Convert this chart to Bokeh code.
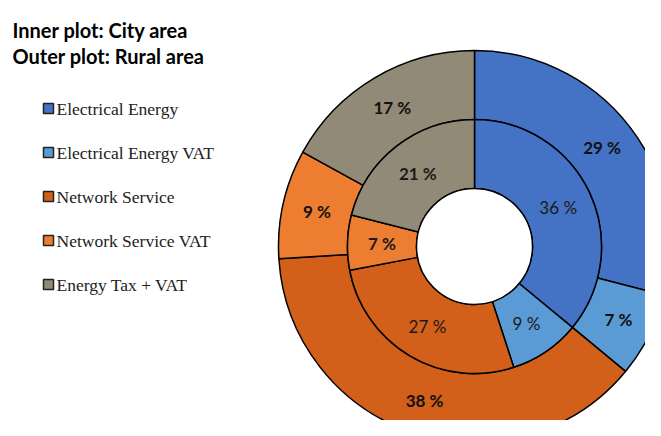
import numpy as np
from bokeh.plotting import figure
from bokeh.models import Range1d, ColumnDataSource
from bokeh.core.properties import value
from bokeh.embed import file_html
from bokeh.resources import INLINE

categories = ["Electrical Energy", "Electrical Energy VAT", "Network Service",
              "Network Service VAT", "Energy Tax + VAT"]
city = [36, 9, 27, 7, 21]      # inner ring
rural = [29, 7, 38, 9, 17]     # outer ring
colors = ["#4472C4", "#5B9BD5", "#D2601A", "#ED7D31", "#918A77"]
inner_bold = [False, False, False, True, True]
titles = ["Inner plot: City area", "Outer plot: Rural area"]

W, H = 645, 420
p = figure(width=W, height=H, x_range=Range1d(0, W), y_range=Range1d(0, H),
           output_backend="svg", toolbar_location=None, min_border=0)
p.axis.visible = False
p.grid.visible = False
p.outline_line_color = None
p.background_fill_color = "white"


def py(img_y):
    return H - img_y


cx, cy = 474, py(246)
r_hole, r_mid, r_out = 58, 127, 196


def ring(vals, rin, rout):
    v = np.array(vals, dtype=float)
    cum = np.cumsum(v) / v.sum()
    prev = np.concatenate([[0], cum[:-1]])
    a_start = np.pi / 2 - prev * 2 * np.pi
    a_end = np.pi / 2 - cum * 2 * np.pi
    mid = (a_start + a_end) / 2
    src = ColumnDataSource(dict(x=[cx] * len(v), y=[cy] * len(v),
                                s=list(a_end), e=list(a_start), c=colors))
    p.annular_wedge(x="x", y="y", inner_radius=rin, outer_radius=rout,
                    start_angle="s", end_angle="e", fill_color="c", source=src,
                    line_color="black", line_width=1.5)
    rl = (rin + rout) / 2
    return cx + rl * np.cos(mid), cy + rl * np.sin(mid)


ox, oy = ring(rural, r_mid, r_out)
ix, iy = ring(city, r_hole, r_mid)
p.circle(x=[cx], y=[cy], radius=r_hole, fill_color="white",
         line_color="black", line_width=1.5)

lab_font = value("Lato")
p.text(x=list(ox), y=list(oy), text=[f"{v} %" for v in rural],
       text_font=lab_font, text_font_size="17px", text_font_style="bold",
       text_align="center", text_baseline="middle", text_color="#111111")
for i in range(len(city)):
    p.text(x=[ix[i]], y=[iy[i]], text=[f"{city[i]} %"], text_font=lab_font,
           text_font_size="17px",
           text_font_style="bold" if inner_bold[i] else "normal",
           text_align="center", text_baseline="middle", text_color="#1a1a1a")

# Titles
p.text(x=[12, 12], y=[py(29.5), py(55)], text=titles,
       text_font=lab_font, text_font_size="20px", text_font_style="bold",
       text_align="left", text_baseline="alphabetic", text_color="black")

# Legend
ly = [108, 152, 196, 240, 284]
p.rect(x=[48] * 5, y=[py(v) for v in ly], width=10, height=10,
       width_units="screen", height_units="screen", fill_color=colors,
       line_color="#222222", line_width=1.5)
p.text(x=[56] * 5, y=[py(v) for v in ly], text=categories,
       text_font=value("Liberation Serif"), text_font_size="17.5px",
       text_align="left", text_baseline="middle", text_color="#222222")

open("out.html", "w").write(file_html(p, INLINE))
